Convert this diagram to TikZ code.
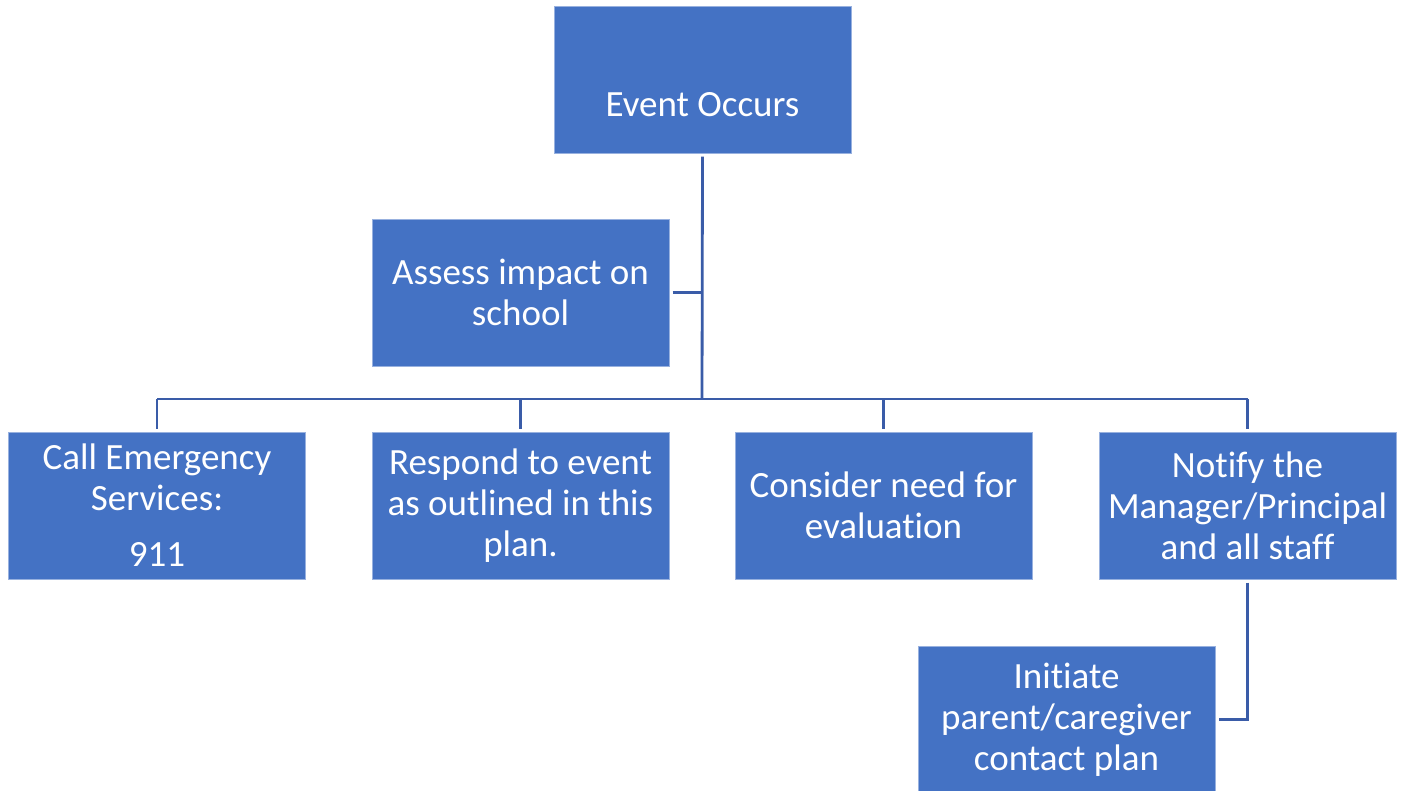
\documentclass[tikz,border=0pt]{standalone}
\usepackage{fontspec}
\setmainfont{Carlito}[Ligatures={NoCommon}]
\definecolor{boxblue}{HTML}{4472C4}
\definecolor{lineblue}{HTML}{3A5CA8}
\begin{document}
\begin{tikzpicture}[x=1pt,y=-1pt,
  box/.style={rectangle, fill=boxblue, draw=boxblue!55!white, line width=0.8pt,
    minimum width=297pt, minimum height=147pt, inner sep=0pt, outer sep=3.5pt,
    text=white, align=center, font=\fontsize{37}{41}\selectfont},
  conn/.style={draw=lineblue, line width=2.8pt}]
\useasboundingbox (0,0) rectangle (1407,790);
\node[box] (ev) at (702.5,79.5) {};
\node[text=white, font=\fontsize{37}{41}\selectfont] (evt) at ([yshift=-25pt]ev.center) {Event Occurs};
\node[box] (as) at (520.5,292.5) {Assess impact on\\school};
\node[box] (b1) at (157,505.5) {Call Emergency\\Services:\\[15pt]911};
\node[box] (b2) at (520.5,505.5) {Respond to event\\as outlined in this\\plan.};
\node[box] (b3) at (883.5,505.5) {Consider need for\\evaluation};
\node[box] (b4) at (1247.5,505.5) {Notify the\\Manager/Principal\\and all staff};
\node[box] (in) at (1066.5,719.5) {Initiate\\parent/caregiver\\contact plan};
\coordinate (bus) at (702,399);
\draw[conn] (ev.south) -- (bus);
\draw[conn] (as.east) -- (ev.south |- as.east);
\draw[conn] (b1.north |- bus) -- (b4.north |- bus);
\draw[conn] (b1.north) -- (b1.north |- bus);
\draw[conn] (b2.north) -- (b2.north |- bus);
\draw[conn] (b3.north) -- (b3.north |- bus);
\draw[conn] (b4.north) -- (b4.north |- bus);
\draw[conn] (b4.south) -- (b4.south |- in.east) -- (in.east);
\end{tikzpicture}
\end{document}
